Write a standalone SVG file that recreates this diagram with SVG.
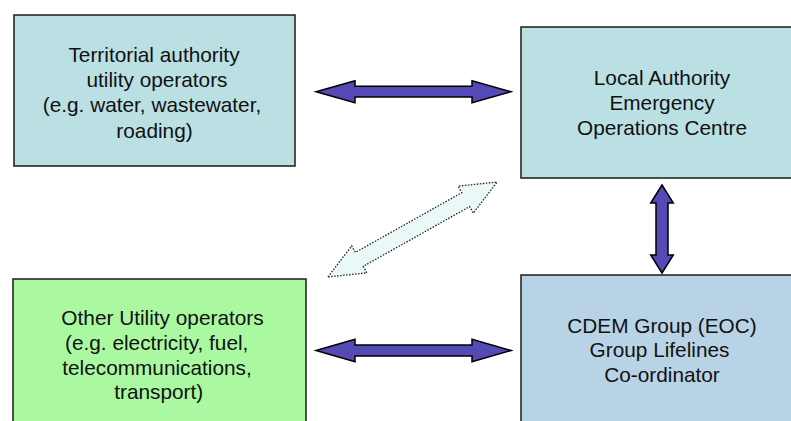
<svg xmlns="http://www.w3.org/2000/svg" width="791" height="421" viewBox="0 0 791 421">
<style>
.box{stroke:#1a1a1a;stroke-width:1.5}
.t{font-family:"Liberation Sans",Arial,sans-serif;font-size:20.8px;fill:#111;text-anchor:middle}
.arr{fill:#5549B5;stroke:#000;stroke-width:1.5;stroke-linejoin:miter}
.dash{fill:#EAF8F8;stroke:#222;stroke-width:1.3;stroke-dasharray:1.5 1.5}
</style>
<rect width="791" height="421" fill="#fff"/>
<g id="territorial">
<rect class="box" x="14" y="15" width="281" height="151" fill="#BBE0E3"/>
<text class="t"><tspan x="154" y="61.7">Territorial authority</tspan><tspan x="157" y="87">utility operators</tspan><tspan x="152" y="112.3">(e.g. water, wastewater,</tspan><tspan x="154.5" y="137.6">roading)</tspan></text>
</g>
<g id="local-eoc">
<rect class="box" x="521" y="27" width="282" height="151" fill="#BBE0E3"/>
<text class="t"><tspan x="662" y="85">Local Authority</tspan><tspan x="662" y="110">Emergency</tspan><tspan x="662" y="134.5">Operations Centre</tspan></text>
</g>
<g id="other-utility">
<rect class="box" x="13" y="279" width="293" height="160" fill="#AAF9A0"/>
<text class="t"><tspan x="162.5" y="325">Other Utility operators</tspan><tspan x="156.7" y="350">(e.g. electricity, fuel,</tspan><tspan x="157" y="375">telecommunications,</tspan><tspan x="158.7" y="399.3">transport)</tspan></text>
</g>
<g id="cdem">
<rect class="box" x="521" y="275" width="282" height="160" fill="#B9D3E6"/>
<text class="t"><tspan x="662" y="332.7">CDEM Group (EOC)</tspan><tspan x="659.5" y="357.3">Group Lifelines</tspan><tspan x="662" y="381.7">Co-ordinator</tspan></text>
</g>
<g id="connectors">
<path class="arr" d="M316,91.7 L355,80.7 L355,86.3 L472,86.3 L472,80.7 L511,91.7 L472,102.7 L472,97 L355,97 L355,102.7 Z"/>
<path class="arr" d="M316,350.5 L355,339.3 L355,345 L472,345 L472,339.3 L511,350.5 L472,361.7 L472,356 L355,356 L355,361.7 Z"/>
<path class="arr" d="M662,185 L673.3,203 L668,203 L668,255 L673.3,255 L662,273 L650.7,255 L656,255 L656,203 L650.7,203 Z"/>
<path class="dash" transform="translate(412.5,229.5) rotate(-29.3)" d="M-97,0 L-61,-15.5 L-61,-8 L61,-8 L61,-15.5 L97,0 L61,15.5 L61,8 L-61,8 L-61,15.5 Z"/>
</g>
</svg>
